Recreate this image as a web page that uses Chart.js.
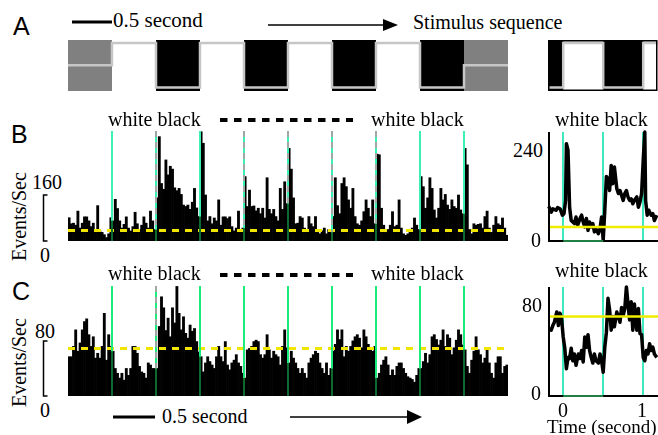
<!DOCTYPE html>
<html>
<head>
<meta charset="utf-8">
<script src="https://cdn.jsdelivr.net/npm/chart.js@4.4.0/dist/chart.umd.min.js"></script>
<style>
  body { margin: 0; background: #fff; }
  #fig { position: relative; width: 658px; height: 435px; overflow: hidden; background: #fff; }
  #fig canvas, #fig svg { position: absolute; }
  .t { position: absolute; font-family: "Liberation Serif", "Times New Roman", serif; font-size: 20px; line-height: 20px; white-space: nowrap; color: #000; }
  .p { position: absolute; font-family: "Liberation Sans", Arial, sans-serif; font-size: 25px; line-height: 25px; color: #000; }
  .rot { transform-origin: 0 0; transform: rotate(-90deg); }
</style>
</head>
<body>
<div id="fig">
  <svg width="658" height="435" style="left:0;top:0">
    <line x1="72" y1="22" x2="112" y2="22" stroke="#000" stroke-width="3"/>
    <line x1="268" y1="25" x2="386" y2="25" stroke="#000" stroke-width="1.6"/>
    <polygon points="383,19 398,25 383,31" fill="#000"/>
    <line x1="220" y1="120" x2="353" y2="120" stroke="#000" stroke-width="4" stroke-dasharray="7.5 6.5"/>
    <line x1="220" y1="275" x2="353" y2="275" stroke="#000" stroke-width="4" stroke-dasharray="7.5 6.5"/>
    <path d="M47.5 195 H43.5 V241 H47.5" fill="none" stroke="#000" stroke-width="1.5"/>
    <path d="M47.5 341 H43.5 V396 H47.5" fill="none" stroke="#000" stroke-width="1.5"/>
    <line x1="113" y1="417" x2="155" y2="417" stroke="#000" stroke-width="3"/>
    <line x1="290" y1="417" x2="410" y2="417" stroke="#000" stroke-width="1.6"/>
    <polygon points="407,410 422,417 407,424" fill="#000"/>
  </svg>

  <canvas id="stimMain" width="440" height="51" style="left:68px;top:40px"></canvas>
  <canvas id="stimCycle" width="111" height="53" style="left:547px;top:39px"></canvas>
  <canvas id="histB" width="440" height="113" style="left:68px;top:128px"></canvas>
  <canvas id="histC" width="440" height="113" style="left:68px;top:283px"></canvas>
  <canvas id="avgBChart" width="113" height="117" style="left:545px;top:128px"></canvas>
  <canvas id="avgCChart" width="113" height="117" style="left:545px;top:283px"></canvas>

  <div class="p" style="left:13px;top:14px">A</div>
  <div class="p" style="left:11px;top:122px">B</div>
  <div class="p" style="left:12px;top:279px">C</div>

  <div class="t" style="left:113px;top:10px;font-size:21px;line-height:21px">0.5 second</div>
  <div class="t" style="left:413px;top:12px">Stimulus sequence</div>

  <div class="t" style="left:108px;top:109px">white black</div>
  <div class="t" style="left:371px;top:109px">white black</div>
  <div class="t" style="left:555px;top:109px">white black</div>
  <div class="t" style="left:108px;top:263px">white black</div>
  <div class="t" style="left:371px;top:263px">white black</div>
  <div class="t" style="left:555px;top:260px">white black</div>

  <div class="t rot" style="left:9px;top:261px">Events/Sec</div>
  <div class="t rot" style="left:9px;top:407px">Events/Sec</div>
  <div class="t" style="left:32px;top:172px">160</div>
  <div class="t" style="left:40px;top:245px">0</div>
  <div class="t" style="left:35px;top:321px">80</div>
  <div class="t" style="left:40px;top:400px">0</div>

  <div class="t" style="left:513px;top:140px">240</div>
  <div class="t" style="left:531px;top:230px">0</div>
  <div class="t" style="left:522px;top:295px">80</div>
  <div class="t" style="left:531px;top:383px">0</div>
  <div class="t" style="left:558px;top:400px">0</div>
  <div class="t" style="left:637px;top:400px">1</div>
  <div class="t" style="left:547px;top:417px;font-size:19px;line-height:19px">Time (second)</div>

  <div class="t" style="left:162px;top:406px">0.5 second</div>
</div>

<script>
// Stimulus: 0.5 s phases (0.5 = gray, 1 = white, 0 = black)
const phaseStarts = [0, 0.5, 1.0, 1.5, 2.0, 2.5, 3.0, 3.5, 4.0, 4.5, 5.0];
const stimLevels = [0.5, 1, 0, 1, 0, 1, 0, 1, 0, 0.5];
const cycleStarts = [-0.5, 0, 0.5, 1.0, 1.5];
const cycleLevels = [0, 1, 0, 1];

const onsetsMain = [0.5, 1.0, 1.5, 2.0, 2.5, 3.0, 3.5, 4.0, 4.5];
const dashedOnsetsB = [1.0, 2.0, 2.5, 3.0, 3.5];
const dashedOnsetsC = [1.0];
const onsetsCycle = [0, 0.5, 1.0];

// Spike histograms, 25 ms bins (events/sec)
const binWidth = 0.025;
const ratesB = [
  81, 60, 62, 55, 104, 45, 62, 84, 84, 70, 50, 62, 40, 123, 35, 30, 22, 12, 25, 81,
  70, 145, 113, 70, 45, 58, 84, 45, 35, 50, 100, 60, 40, 55, 84, 62, 45, 104, 70, 40,
  150, 363, 200, 180, 282, 230, 260, 250, 185, 175, 183, 162, 125, 120, 125, 110, 135, 183, 115, 85,
  380, 340, 160, 70, 85, 60, 80, 70, 143, 55, 84, 84, 78, 84, 50, 35, 45, 104, 40, 45,
  224, 120, 177, 120, 122, 105, 114, 95, 114, 80, 220, 110, 95, 110, 85, 70, 183, 110, 206, 130,
  322, 250, 150, 60, 62, 85, 80, 45, 40, 85, 60, 50, 85, 30, 25, 35, 45, 25, 40, 30,
  85, 220, 123, 95, 200, 220, 189, 143, 114, 183, 85, 60, 55, 70, 102, 143, 114, 85, 143, 60,
  302, 300, 114, 55, 30, 40, 55, 102, 50, 55, 143, 45, 25, 20, 25, 35, 45, 80, 55, 40,
  224, 189, 114, 150, 220, 183, 108, 80, 114, 183, 143, 162, 125, 110, 143, 120, 114, 160, 108, 95,
  322, 265, 40, 25, 60, 55, 58, 60, 45, 85, 104, 45, 30, 55, 85, 60, 55, 80, 45, 20
];
const ratesC = [
  57, 57, 72, 96, 65, 77, 96, 108, 112, 89, 72, 86, 55, 62, 55, 72, 120, 52, 89, 72,
  65, 40, 33, 26, 33, 23, 40, 30, 40, 72, 72, 62, 43, 35, 33, 26, 48, 45, 40, 40,
  40, 101, 144, 128, 95, 113, 86, 128, 106, 159, 120, 96, 115, 91, 84, 103, 94, 98, 79, 64,
  57, 35, 48, 57, 50, 45, 40, 57, 72, 57, 50, 79, 45, 38, 48, 52, 60, 48, 43, 33,
  26, 67, 69, 72, 79, 81, 79, 60, 55, 60, 89, 67, 55, 65, 60, 57, 45, 72, 96, 70,
  48, 65, 55, 48, 40, 33, 40, 33, 26, 48, 55, 60, 65, 62, 48, 40, 33, 48, 30, 40,
  65, 75, 96, 82, 96, 57, 72, 65, 72, 80, 86, 89, 84, 70, 96, 86, 75, 70, 65, 72,
  26, 33, 45, 52, 57, 45, 30, 38, 30, 43, 48, 48, 40, 33, 28, 26, 24, 20, 30, 40,
  40, 50, 62, 48, 60, 86, 89, 82, 74, 81, 96, 72, 89, 84, 60, 70, 81, 96, 89, 74,
  67, 43, 33, 52, 65, 86, 67, 60, 48, 55, 69, 48, 33, 26, 48, 57, 57, 33, 43, 45
];
const meanB = 38;
const meanC = 70;

// Cycle-averaged responses
const avgTimesB = [-0.18, -0.15, -0.13, -0.09, -0.07, -0.04, -0.01, 0.01, 0.03, 0.04, 0.06, 0.08, 0.10, 0.12, 0.14, 0.16,
  0.18, 0.21, 0.23, 0.25, 0.27, 0.29, 0.31, 0.33, 0.35, 0.37, 0.39, 0.41, 0.44, 0.46, 0.48, 0.50,
  0.52, 0.54, 0.56, 0.58, 0.60, 0.62, 0.64, 0.67, 0.69, 0.71, 0.73, 0.75, 0.77, 0.79, 0.81, 0.83,
  0.85, 0.87, 0.89, 0.92, 0.94, 0.96, 0.98, 1.00, 1.02, 1.03, 1.05, 1.07, 1.10, 1.12, 1.14, 1.17];
const avgB = [91, 76, 85, 81, 88, 85, 68, 72, 107, 256, 239, 89, 54, 50, 46, 63,
  41, 59, 68, 50, 37, 59, 28, 50, 37, 46, 24, 32, 19, 32, 63, 2,
  81, 170, 164, 133, 199, 151, 195, 138, 125, 133, 120, 107, 125, 133, 116, 107,
  111, 98, 107, 116, 89, 103, 125, 212, 287, 107, 68, 81, 68, 72, 54, 68];
const avgTimesC = [-0.18, -0.15, -0.13, -0.11, -0.08, -0.06, -0.04, -0.02, 0.00, 0.02, 0.04, 0.06, 0.08, 0.10, 0.12, 0.14,
  0.16, 0.19, 0.21, 0.23, 0.25, 0.27, 0.29, 0.31, 0.33, 0.35, 0.37, 0.39, 0.41, 0.44, 0.46, 0.48,
  0.50, 0.52, 0.54, 0.56, 0.58, 0.60, 0.62, 0.64, 0.67, 0.69, 0.71, 0.73, 0.75, 0.77, 0.79, 0.81,
  0.83, 0.85, 0.87, 0.89, 0.92, 0.94, 0.96, 0.98, 1.00, 1.02, 1.04, 1.06, 1.08, 1.10, 1.12, 1.14, 1.17];
const avgC = [59, 58, 62, 65, 74, 62, 73, 68, 52, 42, 24, 34, 33, 42, 31, 37,
  27, 37, 33, 40, 30, 52, 43, 54, 40, 34, 29, 37, 31, 29, 37, 31,
  21, 43, 56, 86, 76, 58, 70, 61, 74, 70, 65, 78, 71, 77, 96, 81,
  67, 83, 58, 81, 58, 77, 55, 54, 34, 31, 40, 37, 46, 40, 43, 37, 34];

const base = {
  responsive: false,
  animation: false,
  devicePixelRatio: 1,
  events: [],
  plugins: { legend: { display: false }, tooltip: { enabled: false } }
};

function line(ctx, x0, y0, x1, y1) {
  ctx.beginPath();
  ctx.moveTo(x0, y0);
  ctx.lineTo(x1, y1);
  ctx.stroke();
}

// Stimulus strips
function stimBlocks(starts, levels, border) {
  return {
    id: 'stimBlocks',
    beforeDatasetsDraw(chart) {
      const { ctx, chartArea: a, scales: { x } } = chart;
      ctx.save();
      levels.forEach((lv, i) => {
        if (lv === 1) return;
        const x0 = Math.max(a.left, x.getPixelForValue(starts[i]));
        const x1 = Math.min(a.right, x.getPixelForValue(starts[i + 1]));
        if (x1 <= x0) return;
        ctx.fillStyle = lv === 0 ? '#000' : '#808080';
        ctx.fillRect(x0, a.top, x1 - x0, a.height);
      });
      ctx.restore();
    },
    afterDatasetsDraw(chart) {
      if (!border) return;
      const { ctx, chartArea: a } = chart;
      ctx.save();
      ctx.strokeStyle = '#000';
      ctx.lineWidth = 1.5;
      ctx.strokeRect(a.left + 0.75, a.top + 0.75, a.width - 2, a.height - 1.5);
      ctx.restore();
    }
  };
}

function stimChart(id, starts, levels, xMin, xMax, padding, border) {
  const pts = starts.map((t, i) => ({ x: t, y: levels[Math.min(i, levels.length - 1)] }));
  return new Chart(document.getElementById(id), {
    type: 'line',
    data: { datasets: [{ data: pts, stepped: true, borderColor: '#c6c6c6', borderWidth: 2.5, pointRadius: 0 }] },
    options: {
      ...base,
      layout: { padding },
      scales: {
        x: { type: 'linear', min: xMin, max: xMax, display: false },
        y: { min: -0.079, max: 1.067, display: false }
      }
    },
    plugins: [stimBlocks(starts, levels, border)]
  });
}

stimChart('stimMain', phaseStarts, stimLevels, 0, 5, 0, false);
stimChart('stimCycle', cycleStarts, cycleLevels, -0.19, 1.185, { left: 1, top: 1, right: 0, bottom: 1 }, true);

// Histograms with mean rate and stimulus onsets
function histDecor(rates, mean, lineColor, dashed) {
  return {
    id: 'histDecor',
    afterDatasetsDraw(chart) {
      const { ctx, chartArea: a, scales: { x, y } } = chart;
      ctx.save();
      ctx.strokeStyle = '#f2e600';
      ctx.lineWidth = 3;
      ctx.setLineDash([7, 6]);
      const ym = Math.round(y.getPixelForValue(mean)) + 0.5;
      line(ctx, a.left, ym, a.right, ym);
      ctx.setLineDash([]);
      ctx.lineWidth = 2;
      onsetsMain.forEach(t => {
        const px = Math.round(x.getPixelForValue(t));
        const k = Math.round(t / binWidth);
        const yb = y.getPixelForValue(Math.min(rates[k - 1], rates[k]));
        ctx.strokeStyle = lineColor;
        line(ctx, px, a.top + 3, px, a.bottom);
        if (dashed.includes(t)) {
          ctx.strokeStyle = '#9fa9a3';
          ctx.setLineDash([6, 5]);
          line(ctx, px, a.top + 3, px, yb);
          ctx.setLineDash([]);
        }
        ctx.strokeStyle = '#0c6a2c';
        line(ctx, px, yb, px, a.bottom);
      });
      ctx.restore();
    }
  };
}

function histogram(id, rates, yMax, mean, lineColor, dashed) {
  const pts = rates.map((v, i) => ({ x: (i + 0.5) * binWidth, y: v }));
  return new Chart(document.getElementById(id), {
    type: 'bar',
    data: { datasets: [{ data: pts, backgroundColor: '#000', borderWidth: 0, barPercentage: 1, categoryPercentage: 1 }] },
    options: {
      ...base,
      layout: { padding: 0 },
      scales: {
        x: { type: 'linear', min: 0, max: 5, offset: false, display: false },
        y: { min: 0, max: yMax, display: false }
      }
    },
    plugins: [histDecor(rates, mean, lineColor, dashed)]
  });
}

histogram('histB', ratesB, 393, meanB, '#3cf0b4', dashedOnsetsB);
histogram('histC', ratesC, 164, meanC, '#1aeb7a', dashedOnsetsC);

// Cycle averages
function avgDecor(mean) {
  return {
    id: 'avgDecor',
    beforeDatasetsDraw(chart) {
      const { ctx, chartArea: a, scales: { x } } = chart;
      ctx.save();
      ctx.strokeStyle = '#40e8c0';
      ctx.lineWidth = 2;
      onsetsCycle.forEach(t => {
        const px = Math.round(x.getPixelForValue(t));
        line(ctx, px, a.top, px, a.bottom);
      });
      ctx.restore();
    },
    afterDatasetsDraw(chart) {
      const { ctx, chartArea: a, scales: { x, y } } = chart;
      ctx.save();
      ctx.strokeStyle = '#f0ec00';
      ctx.lineWidth = 2.5;
      const ym = y.getPixelForValue(mean);
      line(ctx, a.left, ym, a.right, ym);
      ctx.strokeStyle = '#000';
      ctx.lineWidth = 2;
      line(ctx, a.left + 1, a.top, a.left + 1, a.bottom + 1);
      line(ctx, a.left, a.bottom, a.right, a.bottom);
      ctx.strokeStyle = '#1f7f45';
      line(ctx, x.getPixelForValue(onsetsCycle[0]), a.bottom, x.getPixelForValue(onsetsCycle[1]), a.bottom);
      ctx.restore();
    }
  };
}

function avgChart(id, times, values, yMax, mean) {
  return new Chart(document.getElementById(id), {
    type: 'line',
    data: {
      datasets: [{
        data: times.map((t, i) => ({ x: t, y: values[i] })),
        borderColor: '#000', borderWidth: 3.5, pointRadius: 0,
        borderJoinStyle: 'round', tension: 0, clip: 6
      }]
    },
    options: {
      ...base,
      layout: { padding: { left: 3, top: 4, right: 0, bottom: 4 } },
      scales: {
        x: { type: 'linear', min: -0.19, max: 1.185, display: false },
        y: { min: 0, max: yMax, display: false }
      }
    },
    plugins: [avgDecor(mean)]
  });
}

avgChart('avgBChart', avgTimesB, avgB, 287, 37);
avgChart('avgCChart', avgTimesC, avgC, 96, 70);
</script>
</body>
</html>
